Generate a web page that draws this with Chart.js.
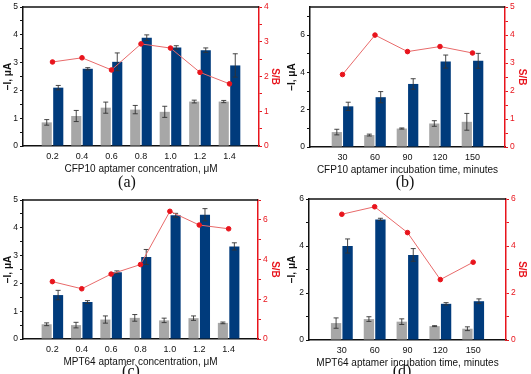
<!DOCTYPE html>
<html>
<head>
<meta charset="utf-8">
<script src="https://cdn.jsdelivr.net/npm/chart.js@4.4.1/dist/chart.umd.min.js"></script>
<style>
  body { margin: 0; background: #fff; }
  #wrap { position: relative; width: 531px; height: 374px; overflow: hidden; }
  canvas { position: absolute; }
  .tag { position: absolute; font-family: "Liberation Serif", serif; font-size: 16px; color: #111; transform: translateX(-50%); }
</style>
</head>
<body>
<div id="wrap">
  <canvas id="chartA" style="left:0;top:0"></canvas>
  <canvas id="chartB" style="left:284px;top:0"></canvas>
  <canvas id="chartC" style="left:0;top:190px"></canvas>
  <canvas id="chartD" style="left:284px;top:190px"></canvas>
  <div class="tag" style="left:127px;top:173px">(a)</div>
  <div class="tag" style="left:405px;top:173px">(b)</div>
  <div class="tag" style="left:131px;top:362px">(c)</div>
  <div class="tag" style="left:402px;top:362px">(d)</div>
</div>
<script>
// x positions (tick labels)
const concTicks = [0.2, 0.4, 0.6, 0.8, 1, 1.2, 1.4];
const timeTicks = [30, 60, 90, 120, 150];

// (a) CFP10 aptamer concentration
const cfpConcBg = [0.85, 1.08, 1.38, 1.31, 1.23, 1.60, 1.60];
const cfpConcBgErr = [0.10, 0.20, 0.20, 0.15, 0.20, 0.05, 0.04];
const cfpConcSig = [2.10, 2.78, 3.03, 3.90, 3.55, 3.45, 2.90];
const cfpConcSigErr = [0.08, 0.04, 0.32, 0.10, 0.06, 0.08, 0.42];
const cfpConcSB = [2.42, 2.54, 2.19, 2.94, 2.82, 2.12, 1.79];

// (b) CFP10 aptamer incubation time
const cfpTimeBg = [0.80, 0.64, 0.99, 1.26, 1.35];
const cfpTimeBgErr = [0.15, 0.05, 0.03, 0.15, 0.45];
const cfpTimeSig = [2.18, 2.67, 3.38, 4.58, 4.62];
const cfpTimeSigErr = [0.22, 0.30, 0.28, 0.35, 0.40];
const cfpTimeSB = [2.59, 4.00, 3.41, 3.59, 3.36];

// (c) MPT64 aptamer concentration
const mptConcBg = [0.53, 0.50, 0.70, 0.76, 0.67, 0.75, 0.58];
const mptConcBgErr = [0.05, 0.10, 0.13, 0.12, 0.08, 0.08, 0.03];
const mptConcSig = [1.58, 1.33, 2.40, 2.95, 4.45, 4.47, 3.33];
const mptConcSigErr = [0.17, 0.05, 0.05, 0.27, 0.07, 0.22, 0.13];
const mptConcSB = [2.89, 2.53, 3.27, 3.75, 6.43, 5.74, 5.55];

// (d) MPT64 aptamer incubation time
const mptTimeBg = [0.72, 0.89, 0.78, 0.59, 0.48];
const mptTimeBgErr = [0.22, 0.10, 0.12, 0.02, 0.08];
const mptTimeSig = [4.00, 5.13, 3.62, 1.54, 1.65];
const mptTimeSigErr = [0.30, 0.05, 0.27, 0.05, 0.10];
const mptTimeSB = [5.35, 5.67, 4.57, 2.57, 3.31];

const RED = '#e8141c';
const BLUE = '#003b7c';
const GRAY = '#a7a7a7';
const FONT = '"Liberation Sans", Arial, sans-serif';

const errorBars = {
  id: 'errorBars',
  afterDatasetDraw(chart, args) {
    const ds = chart.data.datasets[args.index];
    if (!ds.errors) return;
    const y = chart.scales[args.meta.yAxisID];
    const ctx = chart.ctx;
    ctx.save();
    ctx.strokeStyle = '#333';
    ctx.lineWidth = 0.9;
    args.meta.data.forEach((bar, i) => {
      const v = ds.data[i].y, e = ds.errors[i];
      const top = y.getPixelForValue(v + e), bot = y.getPixelForValue(v - e);
      ctx.beginPath();
      ctx.moveTo(bar.x, top); ctx.lineTo(bar.x, bot);
      ctx.moveTo(bar.x - 2.5, top); ctx.lineTo(bar.x + 2.5, top);
      ctx.moveTo(bar.x - 2.5, bot); ctx.lineTo(bar.x + 2.5, bot);
      ctx.stroke();
    });
    ctx.restore();
  }
};

const topBorder = {
  id: 'topBorder',
  afterDraw(chart) {
    const { ctx, chartArea } = chart;
    ctx.save();
    ctx.strokeStyle = '#111';
    ctx.lineWidth = 1.5;
    ctx.beginPath();
    ctx.moveTo(chartArea.left, chartArea.top);
    ctx.lineTo(chartArea.right, chartArea.top);
    ctx.stroke();
    ctx.restore();
  }
};

function points(xs, ys) {
  return xs.map((x, i) => ({ x, y: ys[i] }));
}

function makePanel(id, p) {
  const canvas = document.getElementById(id);
  canvas.width = p.w;
  canvas.height = p.h;
  canvas.style.width = p.w + 'px';
  canvas.style.height = p.h + 'px';

  return new Chart(canvas.getContext('2d'), {
    type: 'bar',
    data: {
      datasets: [
        {
          type: 'line',
          label: 'S/B',
          data: points(p.ticks, p.sb),
          yAxisID: 'y2',
          order: 0,
          borderColor: '#e86a6a',
          borderWidth: 1,
          pointBackgroundColor: RED,
          pointBorderColor: RED,
          pointRadius: 2.3,
          pointStyle: 'circle'
        },
        {
          label: 'background',
          data: points(p.ticks, p.bg),
          errors: p.bgErr,
          yAxisID: 'y',
          order: 1,
          backgroundColor: GRAY,
          barPercentage: p.barPct,
          categoryPercentage: p.catPct
        },
        {
          label: 'signal',
          data: points(p.ticks, p.sig),
          errors: p.sigErr,
          yAxisID: 'y',
          order: 1,
          backgroundColor: BLUE,
          barPercentage: p.barPct,
          categoryPercentage: p.catPct
        }
      ]
    },
    options: {
      responsive: false,
      animation: false,
      layout: { padding: { top: p.top, bottom: p.bottom - 1, left: 0, right: 0 } },
      scales: {
        x: {
          type: 'linear',
          offset: false,
          min: p.xMin,
          max: p.xMax,
          afterBuildTicks: (scale) => { scale.ticks = p.ticks.map(v => ({ value: v })); },
          afterFit: (scale) => { scale.height = 29; },
          grid: { drawOnChartArea: false, drawTicks: false, offset: false },
          border: { color: '#111', width: 1.5 },
          ticks: { color: '#111', padding: 5, maxRotation: 0, font: { family: FONT, size: 9 } },
          title: {
            display: true,
            text: p.xTitle,
            color: '#111',
            padding: { top: 1, bottom: 0 },
            font: { family: FONT, size: 10 }
          }
        },
        y: {
          position: 'left',
          min: 0,
          max: p.yMax,
          afterFit: (scale) => { scale.width = p.leftW; },
          grid: { drawOnChartArea: false, tickLength: 3, color: '#111' },
          border: { color: '#111', width: 1.5 },
          ticks: {
            stepSize: p.yMinor,
            includeBounds: false,
            color: '#111',
            padding: 2,
            font: { family: FONT, size: 8.5 },
            callback: (v) => (Math.abs(v / p.yMajor - Math.round(v / p.yMajor)) < 1e-6 ? String(v) : '')
          },
          title: {
            display: true,
            text: '\u2212I, \u03bcA',
            color: '#111',
            padding: { top: 2, bottom: 0 },
            font: { family: FONT, size: 10, weight: 'bold' }
          }
        },
        y2: {
          position: 'right',
          min: 0,
          max: p.y2Max,
          afterFit: (scale) => { scale.width = p.rightW; },
          grid: { drawOnChartArea: false, tickLength: 3, color: RED },
          border: { color: RED, width: 1.5 },
          ticks: {
            stepSize: p.y2Minor,
            includeBounds: false,
            color: RED,
            padding: 2,
            font: { family: FONT, size: 8.5 },
            callback: (v) => (Math.abs(v / p.y2Major - Math.round(v / p.y2Major)) < 1e-6 ? String(v) : '')
          },
          title: {
            display: true,
            text: 'S/B',
            color: RED,
            padding: { top: 3, bottom: 0 },
            font: { family: FONT, size: 10, weight: 'bold' }
          }
        }
      },
      plugins: {
        legend: { display: false },
        tooltip: { enabled: false }
      }
    },
    plugins: [errorBars, topBorder]
  });
}

makePanel('chartA', {
  w: 284, h: 190, top: 6, bottom: 16, leftW: 23, rightW: 25,
  ticks: concTicks, xMin: 0, xMax: 1.6,
  bg: cfpConcBg, bgErr: cfpConcBgErr, sig: cfpConcSig, sigErr: cfpConcSigErr, sb: cfpConcSB,
  yMax: 5, yMajor: 1, yMinor: 0.5, y2Max: 4, y2Major: 1, y2Minor: 0.5,
  barPct: 0.88, catPct: 0.78,
  xTitle: 'CFP10 aptamer concentration, \u03bcM'
});

makePanel('chartB', {
  w: 247, h: 190, top: 6, bottom: 15, leftW: 26, rightW: 26,
  ticks: timeTicks, xMin: 0, xMax: 180,
  bg: cfpTimeBg, bgErr: cfpTimeBgErr, sig: cfpTimeSig, sigErr: cfpTimeSigErr, sb: cfpTimeSB,
  yMax: 7.5, yMajor: 2, yMinor: 1, y2Max: 5, y2Major: 1, y2Minor: 0.5,
  barPct: 0.9, catPct: 0.7,
  xTitle: 'CFP10 aptamer incubation time, minutes'
});

makePanel('chartC', {
  w: 284, h: 184, top: 10, bottom: 7, leftW: 23, rightW: 26,
  ticks: concTicks, xMin: 0, xMax: 1.6,
  bg: mptConcBg, bgErr: mptConcBgErr, sig: mptConcSig, sigErr: mptConcSigErr, sb: mptConcSB,
  yMax: 5, yMajor: 1, yMinor: 0.5, y2Max: 7, y2Major: 2, y2Minor: 1,
  barPct: 0.88, catPct: 0.78,
  xTitle: 'MPT64 aptamer concentration, \u03bcM'
});

makePanel('chartD', {
  w: 247, h: 184, top: 9, bottom: 6, leftW: 25, rightW: 25,
  ticks: timeTicks, xMin: 0, xMax: 180,
  bg: mptTimeBg, bgErr: mptTimeBgErr, sig: mptTimeSig, sigErr: mptTimeSigErr, sb: mptTimeSB,
  yMax: 6, yMajor: 2, yMinor: 1, y2Max: 6, y2Major: 2, y2Minor: 1,
  barPct: 0.9, catPct: 0.7,
  xTitle: 'MPT64 aptamer incubation time, minutes'
});
</script>
</body>
</html>
